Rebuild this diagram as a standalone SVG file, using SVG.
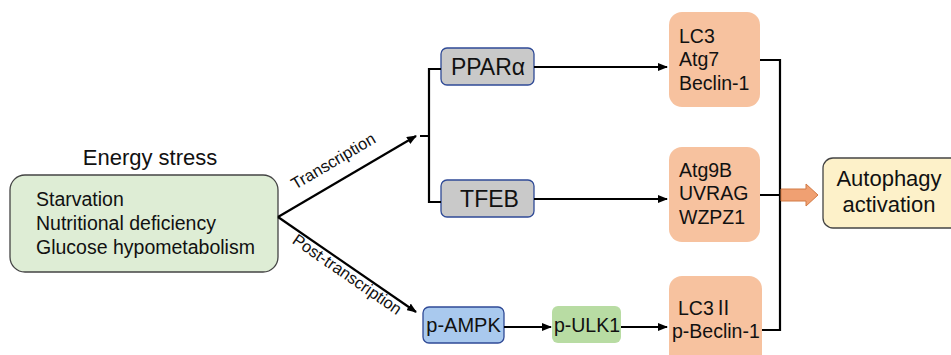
<svg xmlns="http://www.w3.org/2000/svg" width="951" height="355" viewBox="0 0 951 355">
<defs>
<marker id="ah" markerWidth="10" markerHeight="8" refX="9" refY="4" orient="auto" markerUnits="userSpaceOnUse">
<path d="M0,0 L10,4 L0,8 z" fill="#000"/>
</marker>
<style>
text{font-family:"Liberation Sans",Arial,sans-serif;fill:#111;}
.c{stroke:#000;stroke-width:2.2;fill:none;}
.t18{font-size:19.5px;}
.t20{font-size:22px;}
.lab{font-size:16.5px;}
.org{fill:#f7c29f;}
.rn{font-family:"Noto Sans CJK SC","DejaVu Sans",sans-serif;}
</style>
</defs>
<rect width="951" height="355" fill="#fff"/>

<g id="energy">
<text class="t20" x="150" y="165" text-anchor="middle">Energy stress</text>
<rect x="10" y="175" width="268" height="97" rx="15" fill="#deedd5" stroke="#444" stroke-width="1.3"/>
<text class="t18" x="36" y="206">Starvation</text>
<text class="t18" x="36" y="230">Nutritional deficiency</text>
<text class="t18" x="36" y="254">Glucose hypometabolism</text>
</g>

<g id="ppara">
<rect x="441" y="48" width="93" height="37" rx="6" fill="#c9c9c9" stroke="#2f4a96" stroke-width="1.3"/>
<text class="t20" x="488" y="75" text-anchor="middle" style="font-size:23px">PPARα</text>
</g>
<g id="tfeb">
<rect x="441" y="180" width="93" height="37" rx="6" fill="#c9c9c9" stroke="#2f4a96" stroke-width="1.3"/>
<text class="t20" x="489.5" y="207" text-anchor="middle" style="font-size:23px">TFEB</text>
</g>
<g id="pampk">
<rect x="423" y="307" width="81" height="36" rx="6" fill="#a9c9ee" stroke="#2f4a96" stroke-width="1.3"/>
<text class="t18" x="463.5" y="332" text-anchor="middle" style="font-size:20px">p-AMPK</text>
</g>
<g id="pulk1">
<rect x="552" y="306" width="69" height="37" rx="6" fill="#b8dca3"/>
<text class="t18" x="587" y="332" text-anchor="middle">p-ULK1</text>
</g>
<g id="genes1">
<rect class="org" x="669" y="12" width="91" height="95" rx="13"/>
<text class="t18" x="679" y="43">LC3</text>
<text class="t18" x="679" y="66">Atg7</text>
<text class="t18" x="679" y="90">Beclin-1</text>
</g>
<g id="genes2">
<rect class="org" x="669" y="147" width="91" height="95" rx="13"/>
<text class="t18" x="679" y="177">Atg9B</text>
<text class="t18" x="679" y="200">UVRAG</text>
<text class="t18" x="679" y="224">WZPZ1</text>
</g>
<g id="genes3">
<rect class="org" x="669" y="276" width="93" height="95" rx="13"/>
<text class="t18" x="678" y="315">LC3<tspan class="rn">Ⅱ</tspan></text>
<text class="t18" x="672" y="338">p-Beclin-1</text>
</g>
<g id="autophagy">
<rect x="823" y="158" width="140" height="70" rx="10" fill="#fdf1c9" stroke="#444" stroke-width="1.3"/>
<text class="t20" x="889" y="186" text-anchor="middle">Autophagy</text>
<text class="t20" x="889" y="212" text-anchor="middle">activation</text>
</g>

<g id="connectors">
<line class="c" x1="278" y1="217" x2="416" y2="136" marker-end="url(#ah)"/>
<line class="c" x1="278" y1="217" x2="416" y2="312" marker-end="url(#ah)"/>
<path class="c" d="M441,69 H429 V202 H441 M420,136 H429"/>
<line class="c" x1="534" y1="67" x2="667" y2="67" marker-end="url(#ah)"/>
<line class="c" x1="534" y1="199" x2="667" y2="199" marker-end="url(#ah)"/>
<line class="c" x1="504" y1="327" x2="551" y2="327" marker-end="url(#ah)"/>
<line class="c" x1="621" y1="327" x2="667" y2="327" marker-end="url(#ah)"/>
<path class="c" d="M760,60 H780 V330 H762 M760,195 H780"/>
<path d="M781,189 H806 V184 L818,195 L806,206 V201 H781 z" fill="#f0a072" stroke="#d27a45" stroke-width="1"/>
<text class="lab" transform="translate(336,166) rotate(-30.5)" text-anchor="middle">Transcription</text>
<text class="lab" transform="translate(344,279) rotate(34.6)" text-anchor="middle">Post-transcription</text>
</g>
</svg>
